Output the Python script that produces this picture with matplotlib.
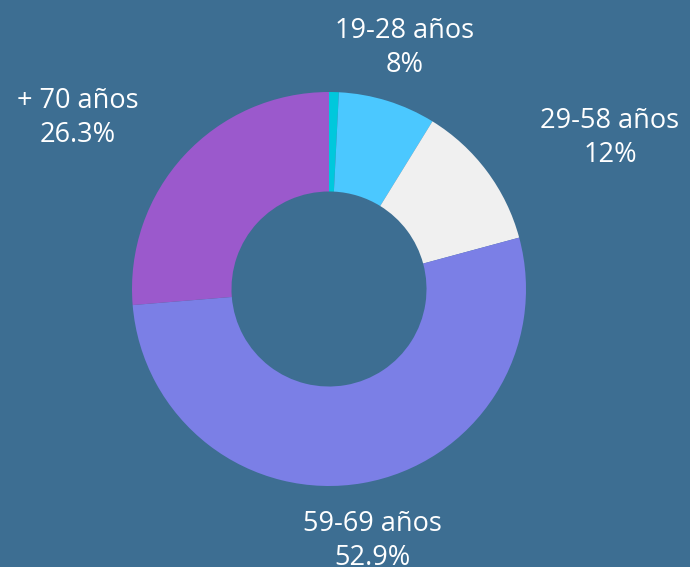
import matplotlib
matplotlib.use("Agg")
import matplotlib.pyplot as plt

labels = ["", "19-28 años", "29-58 años", "59-69 años", "+ 70 años"]
values = [0.8, 8, 12, 52.9, 26.3]
pct_labels = ["", "8%", "12%", "52.9%", "26.3%"]
colors = ["#00c8dc", "#4bc8ff", "#f0f0f0", "#7b7fe6", "#9b59cc"]

bg = "#3d6e92"
W, H = 690, 567

fig = plt.figure(figsize=(W / 100, H / 100), dpi=100, facecolor=bg)
cx, cy, r = 329, 289, 197
ax = fig.add_axes([(cx - r) / W, (H - cy - r) / H, 2 * r / W, 2 * r / H])
ax.set_facecolor(bg)
ax.pie(values, colors=colors, startangle=90, counterclock=False,
       wedgeprops=dict(width=0.505, linewidth=0))
ax.set_xlim(-1, 1)
ax.set_ylim(-1, 1)
ax.axis("off")

# label positions in pixels (text centre)
label_pos = [None, (405, 48), (610, 138), (372, 541), (78, 118)]
for lab, pct, pos in zip(labels, pct_labels, label_pos):
    if pos is None:
        continue
    fig.text(pos[0] / W, 1 - pos[1] / H, f"{lab}\n{pct}", ha="center", va="center",
             color="white", fontsize=19.5, family="Open Sans", linespacing=1.3)

fig.savefig("out.png", dpi=100, facecolor=bg)
